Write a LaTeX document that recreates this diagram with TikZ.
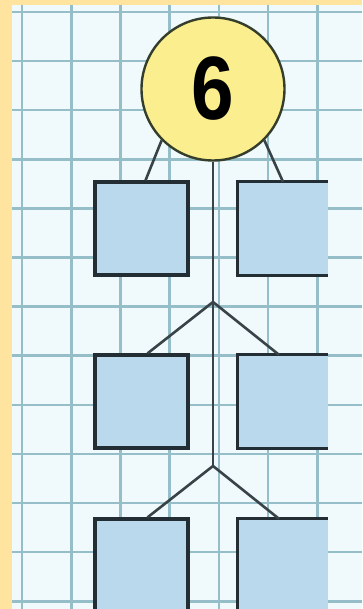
\documentclass[tikz,border=0pt]{standalone}
\usepackage{fontspec}
\setmainfont{Liberation Sans}
\definecolor{paperedge}{RGB}{255,228,160}
\definecolor{paper}{RGB}{240,250,253}
\definecolor{gridblue}{RGB}{150,190,200}
\definecolor{boxblue}{RGB}{186,217,236}
\definecolor{sunyellow}{RGB}{250,238,142}
\definecolor{inkdark}{RGB}{34,46,52}
\begin{document}
\begin{tikzpicture}[
	x=1pt, y=-1pt,
	gridline/.style={ gridblue, line width=2.6pt },
	numcircle/.style={ circle, draw=inkdark!80!olive, line width=2.4pt, fill=sunyellow, inner sep=0pt, minimum size=143pt },
	cellbox/.style={ rectangle, draw=inkdark, line width=3.2pt, fill=boxblue, inner sep=0pt, minimum width=93pt, minimum height=93pt },
	openbox/.style={ rectangle, fill=boxblue, inner sep=0pt, minimum width=90pt, minimum height=93pt },
	boxedge/.style={ inkdark, line width=3.2pt },
	branch/.style={ inkdark!90, line width=2.6pt }
]

\useasboundingbox (0,0) rectangle (362,609);
\clip (0,0) rectangle (362,609);

% paper and squares
\fill[paperedge] (0,0) rectangle (362,609);
\fill[paper] (12,5) rectangle (362,609);
\foreach \i in {0,...,6}
	\draw[gridline] ({22+49.2*\i},5) -- ({22+49.2*\i},609);
\foreach \j in {0,...,12}
	\draw[gridline] (12,{12+49.1*\j}) -- (362,{12+49.1*\j});

% number
\node at (213,89) (six) [numcircle] {\scalebox{0.85}[1]{\fontsize{90}{90}\selectfont\bfseries 6}};

% boxes
\node at (141.5,228.5) (topl) [cellbox] {};
\node at (283,228.5) (topr) [openbox] {};
\node at (141.5,401.5) (midl) [cellbox] {};
\node at (283,401.5) (midr) [openbox] {};
\node at (141.5,570) (botl) [cellbox, minimum height=102pt] {};
\node at (283,570) (botr) [openbox, minimum height=102pt] {};

\draw[boxedge] (topr.north east) -- (topr.north west) -- (topr.south west) -- (topr.south east);
\draw[boxedge] (midr.north east) -- (midr.north west) -- (midr.south west) -- (midr.south east);
\draw[boxedge] (botr.north east) -- (botr.north west) -- (botr.south west);

% branches
\coordinate (fork1) at (213,302);
\coordinate (fork2) at (213,466);

\draw[branch] (six.225) -- ([xshift=4pt]topl.north);
\draw[branch] (six.-45) -- (topr.north);
\draw[branch] (six.south) -- (fork2);
\draw[branch] ([xshift=6pt]midl.north) -- (fork1) -- ([xshift=-4pt]midr.north);
\draw[branch] ([xshift=6pt]botl.north) -- (fork2) -- ([xshift=-4pt]botr.north);

\end{tikzpicture}
\end{document}
